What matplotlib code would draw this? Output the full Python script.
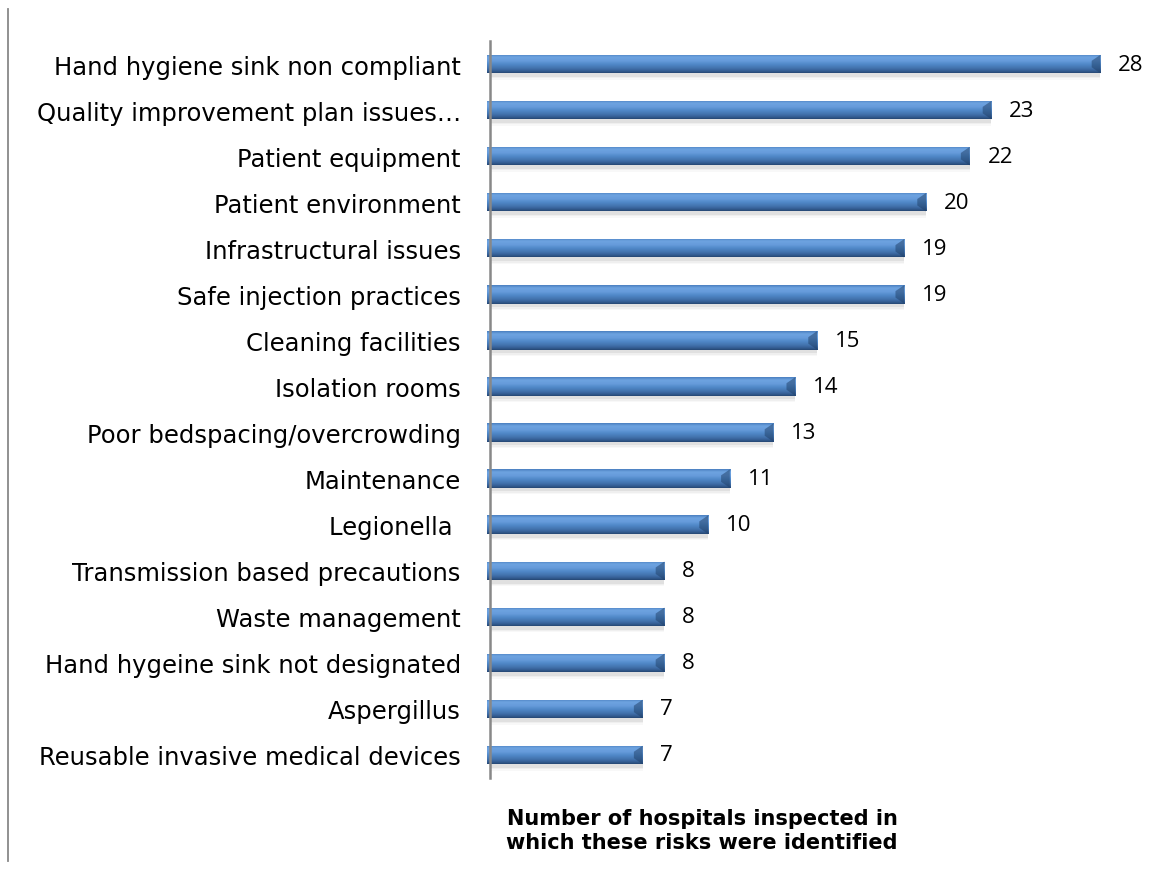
import matplotlib
matplotlib.use("Agg")
import matplotlib.pyplot as plt
import numpy as np
from matplotlib.lines import Line2D

categories = [
    "Hand hygiene sink non compliant",
    "Quality improvement plan issues…",
    "Patient equipment",
    "Patient environment",
    "Infrastructural issues",
    "Safe injection practices",
    "Cleaning facilities",
    "Isolation rooms",
    "Poor bedspacing/overcrowding",
    "Maintenance",
    "Legionella ",
    "Transmission based precautions",
    "Waste management",
    "Hand hygeine sink not designated",
    "Aspergillus",
    "Reusable invasive medical devices",
]
values = [28, 23, 22, 20, 19, 19, 15, 14, 13, 11, 10, 8, 8, 8, 7, 7]
xlabel = "Number of hospitals inspected in\nwhich these risks were identified"

W, H = 1163, 870
fig = plt.figure(figsize=(W / 100, H / 100), dpi=100)
ax = fig.add_axes([490 / W, 1 - 779 / H, (1144 - 490) / W, (779 - 42) / H])

n = len(categories)
ypos = np.arange(n)
bh = 0.40
x0 = -0.15

# gradient image for bars (top -> bottom)
grad_cols = np.array([
    [0.29, 0.50, 0.75],
    [0.43, 0.64, 0.88],
    [0.40, 0.61, 0.86],
    [0.31, 0.53, 0.78],
    [0.26, 0.45, 0.68],
    [0.20, 0.36, 0.57],
    [0.15, 0.28, 0.45],
])
t = np.array([0.0, 0.15, 0.35, 0.55, 0.75, 0.9, 1.0])
tt = np.linspace(0, 1, 64)
grad = np.stack([np.interp(tt, t, grad_cols[:, c]) for c in range(3)], axis=1)
grad_img = grad[:, None, :]

# soft shadows
for k, a in enumerate([0.12, 0.08, 0.05]):
    ax.barh(ypos + 0.08 + 0.03 * k, np.array(values) - x0 - 0.1, height=bh,
            color="#808080", alpha=a, left=x0 + 0.1, zorder=1, lw=0)

bars = ax.barh(ypos, np.array(values) - x0, height=bh, color="#4f81bd",
               edgecolor="none", left=x0, zorder=2)
for b, v, y in zip(bars, values, ypos):
    im = ax.imshow(grad_img, extent=(x0, v, y + bh / 2, y - bh / 2),
                   aspect="auto", zorder=3, interpolation="bilinear")
    im.set_clip_path(b)
    # bevel at right end
    ax.fill([v, v - 0.4, v - 0.4, v],
            [y - bh / 2, y - bh / 2 + 0.13, y + bh / 2 - 0.13, y + bh / 2],
            color="#1f3f66", alpha=0.5, zorder=4, lw=0)
    ax.text(v + 0.82, y, str(v), va="center", ha="left", fontsize=16,
            family="Open Sans", color="black")

ax.set_xlim(0, 30)
ax.set_ylim(n - 0.5, -0.5)
ax.set_yticks(ypos)
ax.set_yticklabels(categories, fontsize=17.5, family="DejaVu Sans")
ax.tick_params(axis="y", length=0, pad=21)
ax.set_xticks([])
for s in ["top", "right", "bottom"]:
    ax.spines[s].set_visible(False)
ax.spines["left"].set_color("#888888")
ax.spines["left"].set_linewidth(1.8)
ax.spines["left"].set_zorder(5)

fig.text(702 / W, 1 - 831 / H, xlabel, ha="center", va="center",
         fontsize=15, fontweight="bold", family="DejaVu Sans", linespacing=1.3)

fig.add_artist(Line2D([8 / W, 8 / W], [1 - 10 / H, 1 - 862 / H],
                      color="#888888", lw=1.3))

fig.savefig("out.png", dpi=100)
